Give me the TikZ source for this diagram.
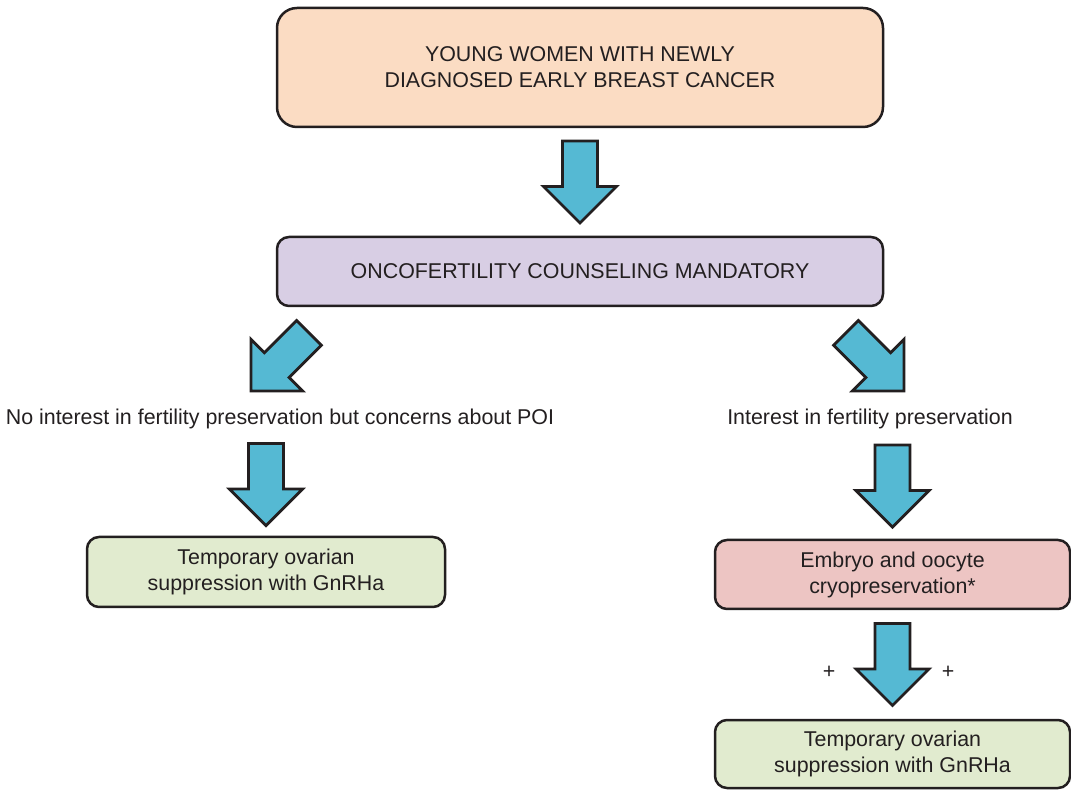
\documentclass[tikz,border=0pt]{standalone}
\usepackage{fontspec}
\setmainfont{Liberation Sans}
\usetikzlibrary{calc}
\definecolor{inkline}{HTML}{231F20}
\definecolor{arrowblue}{HTML}{55B9D3}
\definecolor{peach}{HTML}{FBDCC3}
\definecolor{lavender}{HTML}{D8CEE4}
\definecolor{sage}{HTML}{E1EBCF}
\definecolor{rose}{HTML}{EDC5C3}
\tikzstyle{box}=[draw=inkline, line width=1.25pt, rounded corners=6pt, align=center, text=inkline, font=\fontsize{10.7}{13}\selectfont, inner sep=0pt]
\tikzstyle{label}=[text=inkline, font=\fontsize{10.7}{13}\selectfont, inner sep=2pt]
\tikzstyle{arrowbody}=[draw=inkline, fill=arrowblue, line width=1.4pt, line join=miter]
\tikzset{
	flowarrow/.pic={
		\path[arrowbody] (-17.5,-41) -- (17.5,-41) -- (17.5,4.5) -- (36.5,4.5)
			-- (0,41) -- (-36.5,4.5) -- (-17.5,4.5) -- cycle;
	}
}

\begin{document}
\begin{tikzpicture}[x=0.5pt, y=-0.5pt]
			%\draw [help lines] (0,0) grid (1071,790);
			\useasboundingbox (0,0) rectangle (1071,790);

			\node[box, fill=peach, rounded corners=10pt, minimum width=303pt, minimum height=59.5pt] (young) at (580,67.5)
				{YOUNG WOMEN WITH NEWLY\\DIAGNOSED EARLY BREAST CANCER};
			\node[box, fill=lavender, minimum width=303pt, minimum height=34.5pt] (counsel) at (580,271.5)
				{ONCOFERTILITY COUNSELING MANDATORY};

			\node[label] (nointerest) at (280,419) {No interest in fertility preservation but concerns about POI};
			\node[label] (interest) at (870,419) {Interest in fertility preservation};

			\node[box, fill=sage, minimum width=179pt, minimum height=35pt] (gnrhleft) at (266,572)
				{Temporary ovarian\\suppression with GnRHa};
			\node[box, fill=rose, minimum width=177.5pt, minimum height=34.5pt] (cryo) at (892.5,574.5)
				{Embryo and oocyte\\cryopreservation*};
			\node[box, fill=sage, minimum width=177.5pt, minimum height=34pt] (gnrhright) at (892.5,754)
				{Temporary ovarian\\suppression with GnRHa};

			% block arrows between the boxes
			\pic at ($(young.south)!0.5!(counsel.north)$) {flowarrow};
			\pic[rotate=-45] at ($(nointerest.north)!0.5!(nointerest.north |- counsel.south) + (0,6)$) {flowarrow};
			\pic[rotate=45] at ($(interest.north)!0.5!(interest.north |- counsel.south) + (5,6)$) {flowarrow};
			\pic at ($(gnrhleft.north |- nointerest.south)!0.5!(gnrhleft.north)$) {flowarrow};
			\pic at ($(cryo.north |- interest.south)!0.5!(cryo.north)$) {flowarrow};
			\pic at ($(cryo.south)!0.5!(gnrhright.north)$) {flowarrow};

			\node[label] (plusleft) at (829,672) {+};
			\node[label] (plusright) at (948,672) {+};

\end{tikzpicture}
\end{document}
